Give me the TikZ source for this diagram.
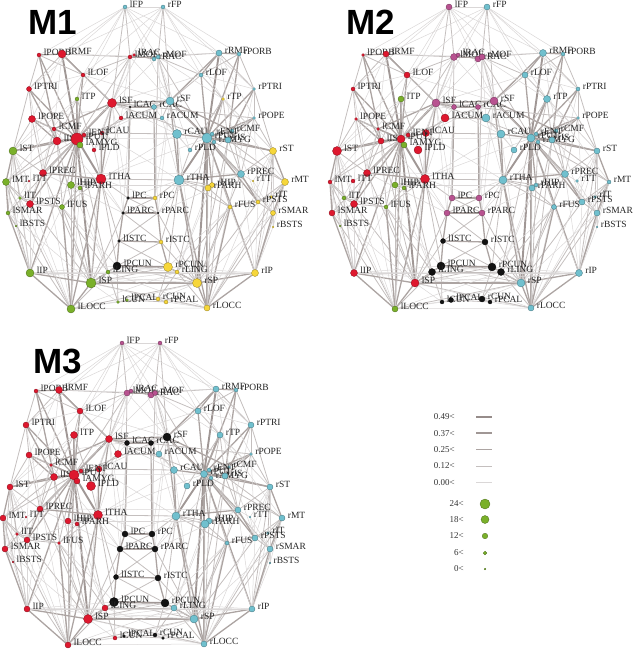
\documentclass[tikz,border=0pt]{standalone}
\usepackage{fontspec}
\setmainfont{Liberation Serif}
\newfontfamily\titlefont{Liberation Sans}
\pgfdeclarelayer{edges}
\pgfsetlayers{edges,main}
\definecolor{cR}{RGB}{222,24,46}
\definecolor{cC}{RGB}{112,192,206}
\definecolor{cG}{RGB}{122,176,42}
\definecolor{cY}{RGB}{246,214,58}
\definecolor{cK}{RGB}{18,18,18}
\definecolor{cM}{RGB}{184,82,144}
\definecolor{eg5}{RGB}{150,140,138}
\definecolor{eg4}{RGB}{160,151,149}
\definecolor{eg3}{RGB}{172,164,162}
\definecolor{eg2}{RGB}{196,191,190}
\definecolor{eg1}{RGB}{218,215,215}
\tikzset{
 e5/.style={line width=2.4pt, draw=eg5},
 e4/.style={line width=1.9pt, draw=eg4},
 e3/.style={line width=1.3pt, draw=eg3},
 e2/.style={line width=0.8pt, draw=eg2},
 e1/.style={line width=0.5pt, draw=eg1},
 bn/.style={circle, inner sep=0pt, line width=0.3pt},
 lb/.style={font=\fontsize{9.5}{10}\selectfont, inner sep=0pt, anchor=west, text=black!85},
 lg/.style={font=\fontsize{9}{10}\selectfont, inner sep=0pt, anchor=east, text=black!80},
 ttl/.style={font=\titlefont\bfseries\fontsize{35}{36}\selectfont, inner sep=0pt, anchor=base west},
}
\def\nodelist{lFP/125/7/C/2/M/3/M/2, rFP/163/7/C/2/C/3/M/2,
lPORB/39/55/R/2/R/1.5/R/2, lRMF/62/54/R/4/R/3/R/3.5, lMOF/130/57/R/2/M/3.5/M/3,
lRAC/134/55/R/1.5/M/2/M/2, rRAC/154/59/C/2/M/3/M/3, rMOF/158/57/C/2/M/3/M/2.5,
rRMF/219/53/C/3/C/3.5/C/3, rPORB/239/54/C/2/C/2/C/2, lLOF/83/75/R/2/R/3/R/3,
rLOF/201/75/C/2/C/3/C/3, lPTRI/29/89/R/2.5/R/2/R/3, rPTRI/254/89/C/1.5/C/2/C/3,
lTP/77/99/G/2/G/3/R/3.5, rTP/223/99/Y/1.5/C/3.5/C/3, lSF/112/103/R/4.5/M/4/R/3.5,
lCAC/130/107/K/1/M/2.5/K/2.5, rCAC/154/107/C/2.5/M/2.5/K/2.5, rSF/170/101/C/4/M/4/K/4,
lACUM/121/118/R/2/R/4/R/3.5, rACUM/162/118/C/2/C/4/C/3, lPOPE/32/119/R/3.5/R/1.5/R/3,
rPOPE/254/118/C/1.5/C/1.5/C/1.5, lCMF/54/129/R/2/R/1.5/R/1.5, rCMF/232/131/C/2/C/2/C/1.5,
lCAU/102/133/R/2/R/3.5/R/3, rCAU/177/134/C/4.5/C/4/C/3.5, lIS/57/141/R/4/R/3/R/3.5,
lPUT/77/139/R/6/R/4/R/5, lENT/84/135/R/2/R/2/R/2, lAMYG/80/145/G/3/G/3/R/3,
lPLD/94/150/R/2/R/4/R/4.5, rPUT/207/138/C/5/C/4/C/3.5, rENT/212/134/C/2/C/2/C/2,
rAMYG/214/142/C/2/C/2/C/2, rIS/228/140/C/3/C/3/C/3, rPLD/190/150/C/2/C/3/C/3,
lST/13/151/G/4/R/4.5/R/3, rST/273/151/Y/3.5/C/3/C/3, lPREC/43/173/R/3.5/R/3.5/R/3,
rPREC/241/174/C/3.5/C/3.5/C/3, lTHA/101/179/R/5/R/4.5/R/4.5, rTHA/179/180/C/5/C/4/C/4,
lMT/6/182/G/3.5/R/2/R/3, lTT/29/181/R/1/R/2/R/1, rTT/253/181/Y/1/C/1.5/C/1,
rMT/285/182/Y/3.5/C/2/C/3, lHIP/71/185/G/3.5/G/3/R/3, lPARH/80/188/G/2/G/2/R/2,
rHIP/212/185/Y/2.5/C/2/C/3, rPARH/208/188/Y/3/C/3/C/4, lIT/20/198/G/1.5/G/2/R/1.5,
rIT/271/197/Y/1.5/C/1.5/C/1.5, lPSTS/30/204/R/3.5/R/3.5/R/3, rPSTS/258/202/Y/2/C/3/C/3,
lPC/128/198/K/1.5/M/3/K/3, rPC/155/198/Y/2/M/3/K/3, lFUS/62/207/G/2.5/G/2/R/1.5,
rFUS/230/207/Y/2/C/2.5/C/2, lSMAR/8/213/G/2/R/3/R/3, rSMAR/273/213/Y/2.5/C/3/C/3,
lPARC/123/213/K/1.5/M/3/K/3, rPARC/158/213/K/1/M/3/K/3, lBSTS/16/226/G/1/G/1/R/0.8,
rBSTS/273/227/Y/1/C/1/C/0.8, lISTC/119/241/K/1.5/K/2.5/K/2.5, rISTC/161/242/Y/2/K/3/K/3,
lPCUN/117/266/K/4/K/4/K/4.5, rPCUN/168/267/Y/4.5/K/4/K/4, lLING/108/272/G/2/K/3.5/R/3,
rLING/177/272/Y/2/K/3.5/C/3, lIP/30/273/G/4/R/3.5/R/3, rIP/255/273/Y/3.5/C/3.5/C/3,
lSP/91/283/G/5/R/4/R/4.5, rSP/197/283/Y/4.5/C/4/C/4, lCUN/118/302/G/1.5/K/2/R/2,
lPCAL/127/300/G/1.5/K/2.5/K/1.5, rCUN/158/299/Y/2/K/3/K/2, rPCAL/166/302/Y/2/K/2/K/1.5,
lLOCC/71/309/G/4/G/3/R/3, rLOCC/207/308/Y/3/C/3/C/3}
\def\symedges{PUT/PORB/3, PUT/RMF/4, PUT/LOF/3, PUT/PTRI/3, PUT/POPE/3, PUT/SF/4,
PUT/TP/3, PUT/ST/3, PUT/PREC/3, PUT/THA/4, PUT/HIP/3, PUT/FUS/2, PUT/SP/4, PUT/IP/3,
PUT/LOCC/3, PUT/SMAR/2, PUT/CAU/3, PUT/IS/4, PUT/CMF/3, PUT/PSTS/3, PUT/MT/2, PUT/MOF/2,
PUT/LING/2, IS/PORB/3, IS/PTRI/3, IS/POPE/3, IS/ST/3, IS/TP/2, IS/CMF/2, IS/PREC/2,
IS/MT/2, IS/SP/2, IS/LOCC/2, RMF/PORB/3, RMF/LOF/3, RMF/SF/3, RMF/MOF/2, RMF/PTRI/2,
PORB/PTRI/2, PORB/LOF/2, LOF/MOF/2, LOF/SF/2, LOF/TP/2, PTRI/POPE/2, PTRI/ST/2,
PTRI/LOCC/1, POPE/CMF/2, POPE/PREC/2, POPE/ST/2, CMF/SF/3, CMF/PREC/2, SF/CAC/3,
SF/ACUM/2, SF/CAU/2, SF/THA/3, SF/PREC/2, SF/MOF/2, CAU/ACUM/2, CAU/THA/3, TP/PLD/2,
TP/AMYG/2, PLD/THA/2, AMYG/HIP/2, ST/MT/3, ST/PREC/2, ST/SMAR/2, ST/IT/2, MT/SMAR/3,
MT/IT/2, MT/IP/2, MT/PSTS/2, PREC/THA/3, PREC/PSTS/3, PREC/TT/1, PREC/SP/2, PSTS/SMAR/2,
PSTS/IT/2, PSTS/FUS/2, PSTS/SP/2, IT/FUS/2, IT/BSTS/1, SMAR/BSTS/2, SMAR/IP/3,
SMAR/LOCC/2, BSTS/IP/1, THA/HIP/2, THA/PARH/2, THA/FUS/2, THA/SP/3, THA/LOCC/3,
THA/PCUN/2, HIP/PARH/2, HIP/LOCC/2, PARH/FUS/2, FUS/LOCC/3, FUS/SP/2, FUS/LING/2,
IP/SP/3, IP/LOCC/3, SP/LOCC/3, SP/PCUN/3, SP/LING/2, SP/ISTC/2, LING/LOCC/2, LING/CUN/2,
PCUN/CUN/2, PCUN/LING/2, PCUN/ISTC/3, ISTC/PARC/3, PARC/PC/3, PC/CAC/3, PC/MOF/2,
CAC/ACUM/1, MOF/RAC/2, MOF/FP/2, FP/SF/2, FP/LOF/1, FP/RMF/1, CUN/PCAL/2, PCAL/LOCC/1,
PC/THA/2, PARC/SP/2, ISTC/THA/2, IP/PCUN/1, ST/IP/2, ST/LOCC/1,
FP/TP/1, FP/PTRI/1, MOF/TP/1, MOF/ACUM/1, MOF/CAU/1, MOF/PLD/1, RMF/CMF/1, RMF/POPE/1,
LOF/PTRI/1, LOF/ST/1, TP/ST/1, TP/MT/1, CMF/PSTS/1, POPE/PSTS/1, ST/PSTS/1, ST/BSTS/1,
MT/BSTS/1, MT/LOCC/2, IT/LOCC/1, IT/IP/1, SMAR/SP/1, PSTS/IP/1, PARH/LOCC/1, HIP/LING/1,
PARH/LING/1, FUS/IP/1, FUS/PCUN/1, THA/PARC/1, SP/CUN/1, IP/LING/1, LOCC/CUN/1,
ACUM/THA/1, ACUM/PLD/1, CAU/PLD/1, CAU/SP/1, SF/PARC/1, SF/PC/1, CAC/PARC/1, CMF/PARC/1,
PREC/PARC/1, PREC/IP/1, TT/ST/1, TT/SMAR/1, TT/PSTS/1}
\def\crossedges{lFP/rFP/1, lFP/rMOF/1, rFP/lMOF/1, lMOF/rMOF/4, lRAC/rRAC/3, lSF/rSF/3,
lCAC/rCAC/3, lSF/rCAC/2, lCAC/rSF/2, lPC/rPC/3, lPARC/rPARC/3, lISTC/rISTC/3,
lPCUN/rPCUN/4, lCUN/rCUN/2, lPCAL/rPCAL/2, lPC/rPARC/2, rPC/lPARC/2, lPARC/rISTC/2,
rPARC/lISTC/2, lISTC/rPCUN/2, rISTC/lPCUN/2, lSP/rSP/3, lLING/rLING/2, lTHA/rTHA/2,
lCAU/rCAU/2, lSF/rPUT/2, rSF/lPUT/2, lSF/rPOPE/2, rSF/lPOPE/1, lACUM/rACUM/2,
lPUT/rPUT/1, lPREC/rPREC/1, lLOCC/rSP/2, rLOCC/lSP/2, lPCUN/rSP/2, rPCUN/lSP/2,
lIP/rIP/1, lSMAR/rPUT/1, lLOCC/rLOCC/1, lTHA/rCAU/1, rTHA/lCAU/1, lSP/rLING/1,
lHIP/rHIP/1, lFP/lPORB/1, rFP/rPORB/1, lMOF/rSF/1, rMOF/lSF/1,
lFP/rRMF/1, rFP/lRMF/1, lFP/rLOF/1, rFP/lLOF/1, lFP/rSF/1, rFP/lSF/1, lMOF/rRMF/1,
rMOF/lRMF/1, lLOF/rSF/1, rLOF/lSF/1, lSF/rCAU/1, rSF/lCAU/1, lPC/rTHA/1, rPC/lTHA/1,
lCUN/rSP/1, rCUN/lSP/1, lLOCC/rLING/1, rLOCC/lLING/1, lPCUN/rLING/1, rPCUN/lLING/1,
lIP/rSP/1, rIP/lSP/1}
\newcommand\brainpanel[4]{%
\begin{scope}[shift={(#2,#3)}]
\foreach \n/\x/\y/\ka/\ua/\kb/\ub/\kc/\uc in \nodelist {%
  \ifcase#4\or\xdef\kk{\ka}\xdef\uu{\ua}\or\xdef\kk{\kb}\xdef\uu{\ub}\or\xdef\kk{\kc}\xdef\uu{\uc}\fi
  \node[bn, fill=c\kk, draw=c\kk!60!black, minimum size=2*\uu pt] (#1\n) at (\x,\y) {};
  \node[lb] (#1\n-t) at ([xshift=2.5pt,yshift=3pt]#1\n.east) {\n};
}
\begin{pgfonlayer}{edges}
\foreach \a/\b/\w in \symedges {%
  \draw[e\w, line cap=round] (#1l\a) -- (#1l\b);
  \draw[e\w, line cap=round] (#1r\a) -- (#1r\b);
}
\foreach \a/\b/\w in \crossedges {%
  \draw[e\w, line cap=round] (#1\a) -- (#1\b);
}
\end{pgfonlayer}
\end{scope}}
\begin{document}
\begin{tikzpicture}[x=1pt, y=-1pt]
\useasboundingbox (0,0) rectangle (632,650);
\brainpanel{A}{0}{0}{1}
\brainpanel{B}{324}{0}{2}
\brainpanel{C}{-3}{336}{3}
\node[ttl] (T1) at (28,35) {M1};
\node[ttl] (T2) at (346,35) {M2};
\node[ttl] (T3) at (33,373) {M3};
% legend: edge weights
\foreach \i/\t/\s in {1/0.49</5, 2/0.37</4, 3/0.25</3, 4/0.12</2, 5/0.00</1} {
  \pgfmathsetmacro\yy{417+(\i-1)*16.3}
  \node[lg] (LT\i) at (455,\yy) {\t};
  \coordinate (LA\i) at (476,\yy);
  \coordinate (LB\i) at (492,\yy);
  \draw[e\s] (LA\i) -- (LB\i);
}
% legend: node degree
\foreach \i/\t/\r/\yy in {1/24</5/504, 2/18</4/519.5, 3/12</2.8/536, 4/6</1.8/553, 5/0</0.8/569} {
  \node[lg] (DT\i) at (464,\yy) {\t};
  \node[bn, fill=cG, draw=cG!60!black, minimum size=2*\r pt] (DS\i) at (485,\yy) {};
}
\end{tikzpicture}
\end{document}
